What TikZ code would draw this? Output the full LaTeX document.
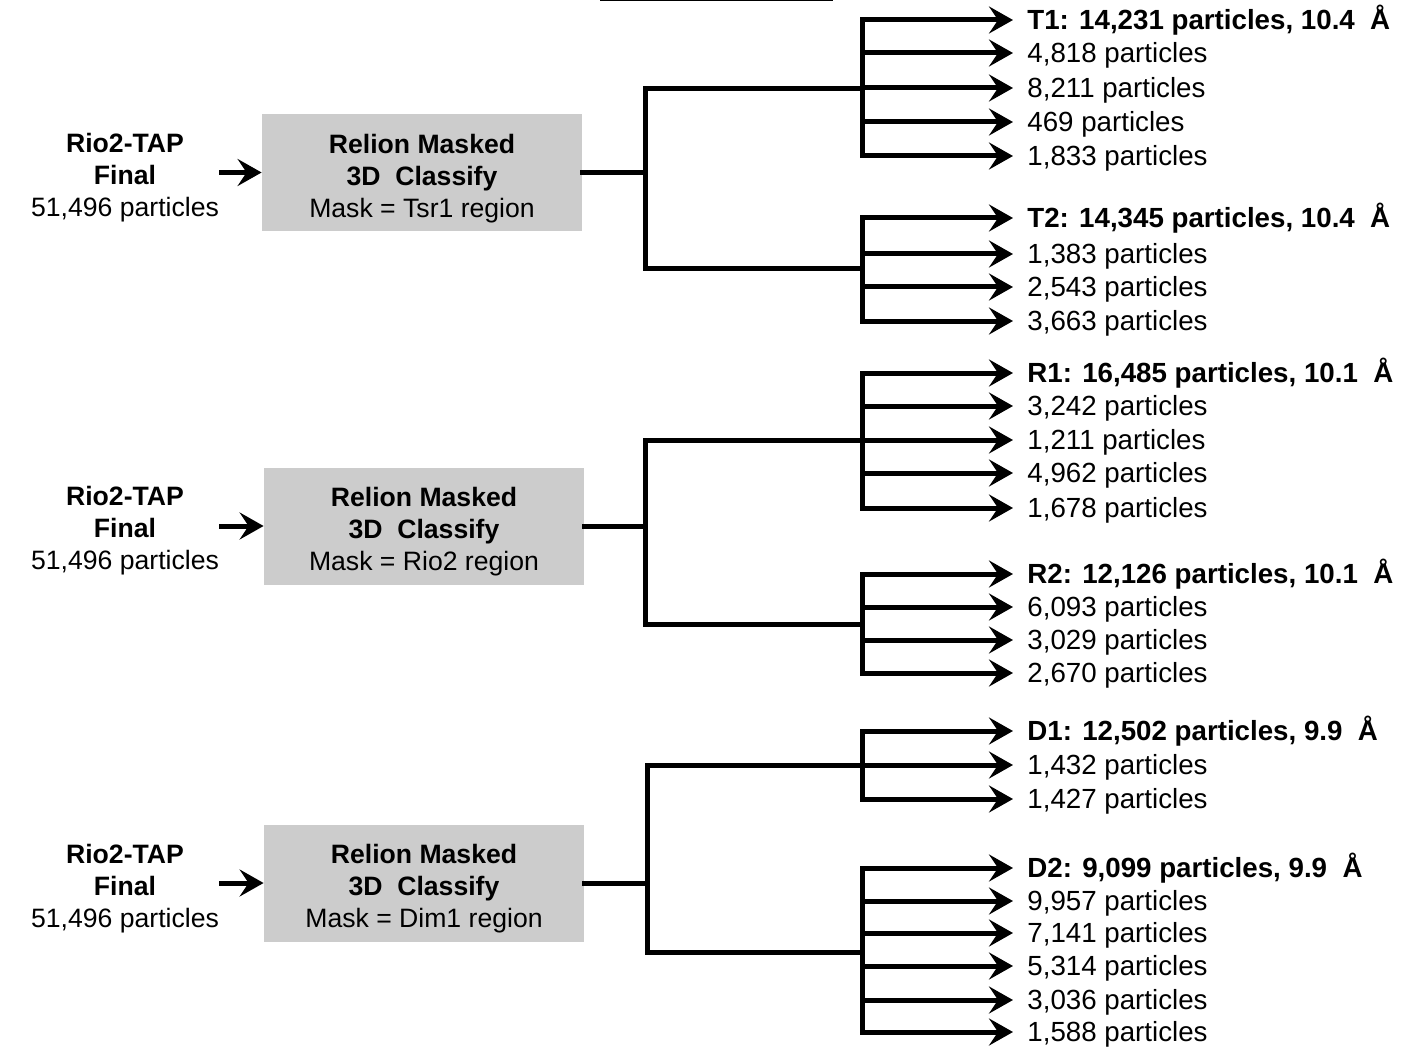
\documentclass[tikz,border=0pt]{standalone}
\usepackage{fontspec}
\setmainfont{Liberation Sans}
\usetikzlibrary{arrows.meta}
\definecolor{boxgray}{HTML}{CCCCCC}
\newcommand{\fsz}{\fontsize{13.3}{16}\selectfont}
\newcommand{\fsr}{\fontsize{13.85}{16}\selectfont}
\begin{document}
\begin{tikzpicture}[x=0.5pt,y=-0.5pt,
  ln/.style={line width=2.5pt, line join=miter, line cap=rect},
  arr/.style={line width=2.5pt, -{Stealth[length=12pt,width=13.5pt,inset=4.5pt]}},
  lbl/.style={anchor=west, inner xsep=7pt, inner ysep=0pt, text height=9.9pt, text depth=0pt, font=\fsr},
  box/.style={fill=boxgray, minimum width=160pt, minimum height=58.5pt, inner sep=0pt},
  src/.style={align=center, font=\fsz, inner sep=0pt}]
\fill[white] (0,0) rectangle (1413,1048);
\useasboundingbox (0,0) rectangle (1413,1048);
\draw[line width=0.75pt] (600,0.6) -- (833,0.6);

% ---------- Panel 1 : Tsr1 ----------
\node[src] (in1) at (125,178) {\textbf{Rio2-TAP}\\\textbf{Final}\\51,496 particles};
\node[box] (box1) at (422,172.5) {};
\node[src] (box1t) at ([yshift=-3pt]box1.center) {\textbf{Relion Masked}\\\textbf{3D\ \ Classify}\\Mask = Tsr1 region};
\draw[arr] (in1.east |- box1.west) -- (box1.west);
\coordinate (j1) at (645,172.5);
\coordinate (j1t) at (645,89);
\coordinate (j1b) at (645,269);
\coordinate (k1t) at (862,89);
\coordinate (k1b) at (862,269);
\draw[ln] (box1.east) -- (j1);
\draw[ln] (k1t) -- (j1t) -- (j1b) -- (k1b);

\node[lbl] (a1) at (1013,20)  {\textbf{T1: 14,231 particles, 10.4\ \ Å}};
\node[lbl] (a2) at (1013,53)  {4,818 particles};
\node[lbl] (a3) at (1013,88)  {8,211 particles};
\node[lbl] (a4) at (1013,122) {469 particles};
\node[lbl] (a5) at (1013,156) {1,833 particles};
\draw[ln] (k1t |- a1.west) -- (k1t |- a5.west);
\foreach \n in {a1,a2,a3,a4,a5} \draw[arr] (k1t |- \n.west) -- (\n.west);

\node[lbl] (b1) at (1013,218) {\textbf{T2: 14,345 particles, 10.4\ \ Å}};
\node[lbl] (b2) at (1013,254) {1,383 particles};
\node[lbl] (b3) at (1013,287) {2,543 particles};
\node[lbl] (b4) at (1013,321) {3,663 particles};
\draw[ln] (k1b |- b1.west) -- (k1b |- b4.west);
\foreach \n in {b1,b2,b3,b4} \draw[arr] (k1b |- \n.west) -- (\n.west);

% ---------- Panel 2 : Rio2 ----------
\node[src] (in2) at (125,531) {\textbf{Rio2-TAP}\\\textbf{Final}\\51,496 particles};
\node[box] (box2) at (424,526) {};
\node[src] (box2t) at ([yshift=-3pt]box2.center) {\textbf{Relion Masked}\\\textbf{3D\ \ Classify}\\Mask = Rio2 region};
\draw[arr] (in2.east |- box2.west) -- (box2.west);
\coordinate (j2) at (645,526);
\coordinate (j2t) at (645,440);
\coordinate (j2b) at (645,624);
\coordinate (k2t) at (862,440);
\coordinate (k2b) at (862,624);
\draw[ln] (box2.east) -- (j2);
\draw[ln] (k2t) -- (j2t) -- (j2b) -- (k2b);

\node[lbl] (c1) at (1013,373) {\textbf{R1: 16,485 particles, 10.1\ \ Å}};
\node[lbl] (c2) at (1013,406) {3,242 particles};
\node[lbl] (c3) at (1013,440) {1,211 particles};
\node[lbl] (c4) at (1013,473) {4,962 particles};
\node[lbl] (c5) at (1013,508) {1,678 particles};
\draw[ln] (k2t |- c1.west) -- (k2t |- c5.west);
\foreach \n in {c1,c2,c3,c4,c5} \draw[arr] (k2t |- \n.west) -- (\n.west);

\node[lbl] (d1) at (1013,574) {\textbf{R2: 12,126 particles, 10.1\ \ Å}};
\node[lbl] (d2) at (1013,607) {6,093 particles};
\node[lbl] (d3) at (1013,640) {3,029 particles};
\node[lbl] (d4) at (1013,673) {2,670 particles};
\draw[ln] (k2b |- d1.west) -- (k2b |- d4.west);
\foreach \n in {d1,d2,d3,d4} \draw[arr] (k2b |- \n.west) -- (\n.west);

% ---------- Panel 3 : Dim1 ----------
\node[src] (in3) at (125,889) {\textbf{Rio2-TAP}\\\textbf{Final}\\51,496 particles};
\node[box] (box3) at (424,883) {};
\node[src] (box3t) at ([yshift=-3pt]box3.center) {\textbf{Relion Masked}\\\textbf{3D\ \ Classify}\\Mask = Dim1 region};
\draw[arr] (in3.east |- box3.west) -- (box3.west);
\coordinate (j3) at (647,883);
\coordinate (j3t) at (647,765);
\coordinate (j3b) at (647,952);
\coordinate (k3t) at (862,765);
\coordinate (k3b) at (862,952);
\draw[ln] (box3.east) -- (j3);
\draw[ln] (k3t) -- (j3t) -- (j3b) -- (k3b);

\node[lbl] (e1) at (1013,731) {\textbf{D1: 12,502 particles, 9.9\ \ Å}};
\node[lbl] (e2) at (1013,765) {1,432 particles};
\node[lbl] (e3) at (1013,799) {1,427 particles};
\draw[ln] (k3t |- e1.west) -- (k3t |- e3.west);
\foreach \n in {e1,e2,e3} \draw[arr] (k3t |- \n.west) -- (\n.west);

\node[lbl] (f1) at (1013,868)  {\textbf{D2: 9,099 particles, 9.9\ \ Å}};
\node[lbl] (f2) at (1013,901)  {9,957 particles};
\node[lbl] (f3) at (1013,933)  {7,141 particles};
\node[lbl] (f4) at (1013,966)  {5,314 particles};
\node[lbl] (f5) at (1013,1000) {3,036 particles};
\node[lbl] (f6) at (1013,1032) {1,588 particles};
\draw[ln] (k3b |- f1.west) -- (k3b |- f6.west);
\foreach \n in {f1,f2,f3,f4,f5,f6} \draw[arr] (k3b |- \n.west) -- (\n.west);
\end{tikzpicture}
\end{document}
